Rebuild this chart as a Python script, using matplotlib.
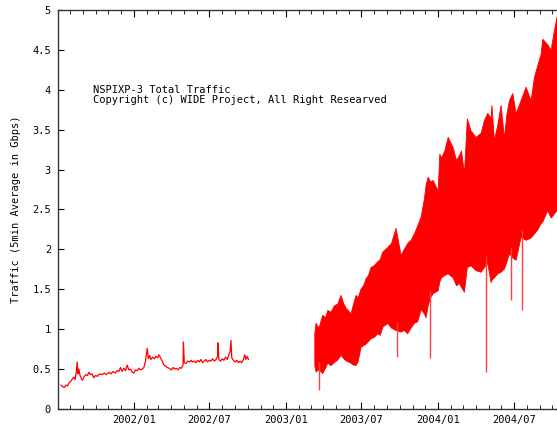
import numpy as np
import pandas as pd
import matplotlib
matplotlib.use("Agg")
import matplotlib.pyplot as plt
import matplotlib.dates as mdates

# 2001/07 - 2002/10 : total traffic (Gbps), single line
early_dates = [
    "2001-07-10", "2001-07-14", "2001-07-18", "2001-07-22", "2001-07-26", "2001-07-30",
    "2001-08-03", "2001-08-07", "2001-08-10", "2001-08-13", "2001-08-16", "2001-08-18",
    "2001-08-20", "2001-08-22", "2001-08-25", "2001-08-28", "2001-08-31", "2001-09-04",
    "2001-09-08", "2001-09-12", "2001-09-15", "2001-09-19", "2001-09-23", "2001-09-27",
    "2001-10-01", "2001-10-06", "2001-10-11", "2001-10-17", "2001-10-22", "2001-10-27",
    "2001-11-02", "2001-11-07", "2001-11-12", "2001-11-17", "2001-11-22", "2001-11-26",
    "2001-11-30", "2001-12-04", "2001-12-08", "2001-12-12", "2001-12-16", "2001-12-20",
    "2001-12-24", "2001-12-28", "2002-01-01", "2002-01-05", "2002-01-09", "2002-01-13",
    "2002-01-17", "2002-01-21", "2002-01-25", "2002-01-29", "2002-02-02", "2002-02-05",
    "2002-02-08", "2002-02-11", "2002-02-15", "2002-02-19", "2002-02-23", "2002-02-27",
    "2002-03-02", "2002-03-06", "2002-03-10", "2002-03-14", "2002-03-18", "2002-03-22",
    "2002-03-27", "2002-04-01", "2002-04-05", "2002-04-09", "2002-04-13", "2002-04-17",
    "2002-04-21", "2002-04-25", "2002-04-29", "2002-04-30", "2002-05-02", "2002-05-06",
    "2002-05-10", "2002-05-14", "2002-05-18", "2002-05-22", "2002-05-26", "2002-05-30",
    "2002-06-03", "2002-06-07", "2002-06-11", "2002-06-15", "2002-06-19", "2002-06-23",
    "2002-06-27", "2002-07-01", "2002-07-05", "2002-07-09", "2002-07-13", "2002-07-17",
    "2002-07-21", "2002-07-22", "2002-07-24", "2002-07-28", "2002-08-01", "2002-08-05",
    "2002-08-09", "2002-08-13", "2002-08-17", "2002-08-20", "2002-08-22", "2002-08-24",
    "2002-08-28", "2002-09-01", "2002-09-05", "2002-09-09", "2002-09-13", "2002-09-17",
    "2002-09-21", "2002-09-24", "2002-09-27", "2002-09-30", "2002-10-03",
]
early_traffic = [
    0.30, 0.28, 0.27, 0.30, 0.29, 0.33,
    0.35, 0.38, 0.40, 0.37, 0.47, 0.59,
    0.44, 0.50, 0.42, 0.38, 0.36, 0.41,
    0.43, 0.42, 0.46, 0.43, 0.44, 0.39,
    0.42, 0.41, 0.44, 0.43, 0.45, 0.43,
    0.46, 0.44, 0.47, 0.45, 0.48, 0.47,
    0.52, 0.47, 0.51, 0.48, 0.55, 0.49,
    0.50, 0.46, 0.45, 0.49, 0.48, 0.51,
    0.49, 0.50, 0.52, 0.60, 0.76, 0.63,
    0.67, 0.62, 0.65, 0.63, 0.66, 0.64,
    0.68, 0.64, 0.60, 0.55, 0.54, 0.52,
    0.51, 0.49, 0.52, 0.50, 0.51, 0.49,
    0.52, 0.51, 0.55, 0.84, 0.58, 0.57,
    0.60, 0.59, 0.61, 0.59, 0.60, 0.58,
    0.61, 0.59, 0.62, 0.58, 0.60, 0.62,
    0.59, 0.61, 0.60, 0.63, 0.60, 0.62,
    0.66, 0.83, 0.62, 0.60, 0.63, 0.61,
    0.65, 0.62, 0.68, 0.72, 0.86, 0.64,
    0.61, 0.59, 0.61, 0.58, 0.60, 0.58,
    0.62, 0.68, 0.62, 0.66, 0.62,
]

# 2003/03 - 2004/10 : dense 5min samples, kept as upper / lower envelope
late_dates = [
    "2003-03-10", "2003-03-13", "2003-03-20", "2003-03-29", "2003-04-05", "2003-04-10",
    "2003-04-18", "2003-04-26", "2003-05-04", "2003-05-12", "2003-05-18", "2003-05-24",
    "2003-06-05", "2003-06-10", "2003-06-17", "2003-06-22", "2003-06-29", "2003-07-05",
    "2003-07-11", "2003-07-17", "2003-07-23", "2003-07-30", "2003-08-08", "2003-08-14",
    "2003-08-20", "2003-09-01", "2003-09-10", "2003-09-21", "2003-09-27", "2003-10-03",
    "2003-10-10", "2003-10-19", "2003-10-27", "2003-11-04", "2003-11-12", "2003-11-20",
    "2003-11-28", "2003-12-02", "2003-12-07", "2003-12-13", "2003-12-19", "2003-12-31",
    "2004-01-04", "2004-01-08", "2004-01-16", "2004-01-24", "2004-02-05", "2004-02-13",
    "2004-02-20", "2004-02-25", "2004-03-03", "2004-03-10", "2004-03-19", "2004-03-31",
    "2004-04-12", "2004-04-20", "2004-04-28", "2004-05-06", "2004-05-08", "2004-05-14",
    "2004-05-22", "2004-05-30", "2004-06-07", "2004-06-13", "2004-06-19", "2004-06-27",
    "2004-07-05", "2004-07-17", "2004-07-29", "2004-08-10", "2004-08-18", "2004-08-26",
    "2004-09-03", "2004-09-07", "2004-09-19", "2004-09-27", "2004-10-05", "2004-10-12",
]
late_upper = [
    0.95, 1.08, 1.02, 1.18, 1.15, 1.24,
    1.22, 1.30, 1.32, 1.43, 1.33, 1.27,
    1.20, 1.30, 1.43, 1.40, 1.51, 1.55,
    1.64, 1.68, 1.78, 1.80, 1.85, 1.88,
    1.97, 2.03, 2.08, 2.27, 2.10, 1.93,
    2.00, 2.08, 2.12, 2.20, 2.30, 2.41,
    2.64, 2.81, 2.91, 2.85, 2.87, 2.74,
    3.20, 3.15, 3.24, 3.41, 3.28, 3.12,
    3.18, 3.24, 2.95, 3.64, 3.49, 3.41,
    3.46, 3.62, 3.71, 3.65, 3.81, 3.37,
    3.56, 3.81, 3.40, 3.70, 3.87, 3.96,
    3.71, 3.87, 4.04, 3.87, 4.16, 4.31,
    4.45, 4.64, 4.57, 4.50, 4.75, 4.94,
]
late_lower = [
    0.55, 0.47, 0.50, 0.45, 0.52, 0.58,
    0.55, 0.59, 0.62, 0.68, 0.64, 0.61,
    0.58, 0.56, 0.55, 0.60, 0.78, 0.80,
    0.82, 0.85, 0.89, 0.90, 0.95, 0.93,
    1.03, 1.08, 1.02, 0.99, 0.98, 0.97,
    0.99, 0.95, 1.02, 1.08, 1.10, 1.25,
    1.20, 1.15, 1.30, 1.40, 1.45, 1.49,
    1.60, 1.65, 1.68, 1.70, 1.65, 1.55,
    1.58, 1.53, 1.47, 1.78, 1.80, 1.74,
    1.72, 1.78, 1.83, 1.59, 1.62, 1.65,
    1.70, 1.72, 1.76, 1.85, 1.95, 1.90,
    1.87, 2.16, 2.12, 2.15, 2.20, 2.25,
    2.33, 2.35, 2.49, 2.40, 2.45, 2.50,
]

# isolated drops below the band
dip_dates = ["2003-03-21", "2003-09-24", "2003-12-12", "2004-04-26", "2004-06-23", "2004-07-21"]
dip_values = [0.24, 0.65, 0.64, 0.46, 1.37, 1.24]

y_ticks = [0, 0.5, 1, 1.5, 2, 2.5, 3, 3.5, 4, 4.5, 5]

early_x = pd.to_datetime(early_dates)
late_x = pd.to_datetime(late_dates)
dip_x = pd.to_datetime(dip_dates)
dip_top = np.interp(mdates.date2num(dip_x), mdates.date2num(late_x), late_lower) + 0.1

mono = "DejaVu Sans Mono"
fs = 7.5

fig = plt.figure(figsize=(5.57, 4.30), dpi=100)
ax = fig.add_axes([58 / 557, 21 / 430, 1 - 58 / 557 + 0.002, 399 / 430])

ax.plot(early_x, early_traffic, color="#ff0000", lw=0.9)
ax.fill_between(late_x, late_lower, late_upper, color="#ff0000", lw=0.6, edgecolor="#ff0000")
ax.vlines(dip_x, dip_values, dip_top, color="#ff4040", lw=1.0)

ax.set_xlim(pd.Timestamp("2001-07-03"), pd.Timestamp("2004-10-15"))
ax.set_ylim(0, 5)
ax.set_yticks(y_ticks)
ax.set_yticklabels([f"{v:g}" for v in y_ticks], fontfamily=mono, fontsize=fs)

ax.xaxis.set_major_locator(mdates.MonthLocator(bymonth=[1, 7]))
ax.xaxis.set_minor_locator(mdates.MonthLocator())
ax.xaxis.set_major_formatter(mdates.DateFormatter("%Y/%m"))
for lab in ax.get_xticklabels():
    lab.set_fontfamily(mono)
    lab.set_fontsize(fs)

ax.tick_params(axis="x", which="major", direction="in", length=5, top=True, pad=4, labelsize=fs)
ax.tick_params(axis="x", which="minor", direction="in", length=3, top=True)
ax.tick_params(axis="y", which="major", direction="in", length=4, right=False, pad=5)
ax.spines["right"].set_visible(False)
for s in ["left", "bottom", "top"]:
    ax.spines[s].set_color("#333333")
    ax.spines[s].set_linewidth(1.0)

ax.set_ylabel("Traffic (5min Average in Gbps)", fontfamily=mono, fontsize=fs, labelpad=8)

fig.text(93 / 557, 1 - 90 / 430, "NSPIXP-3 Total Traffic", fontfamily=mono, fontsize=fs, va="center")
fig.text(93 / 557, 1 - 100 / 430, "Copyright (c) WIDE Project, All Right Researved",
         fontfamily=mono, fontsize=fs, va="center")

fig.savefig("out.png", dpi=100)
